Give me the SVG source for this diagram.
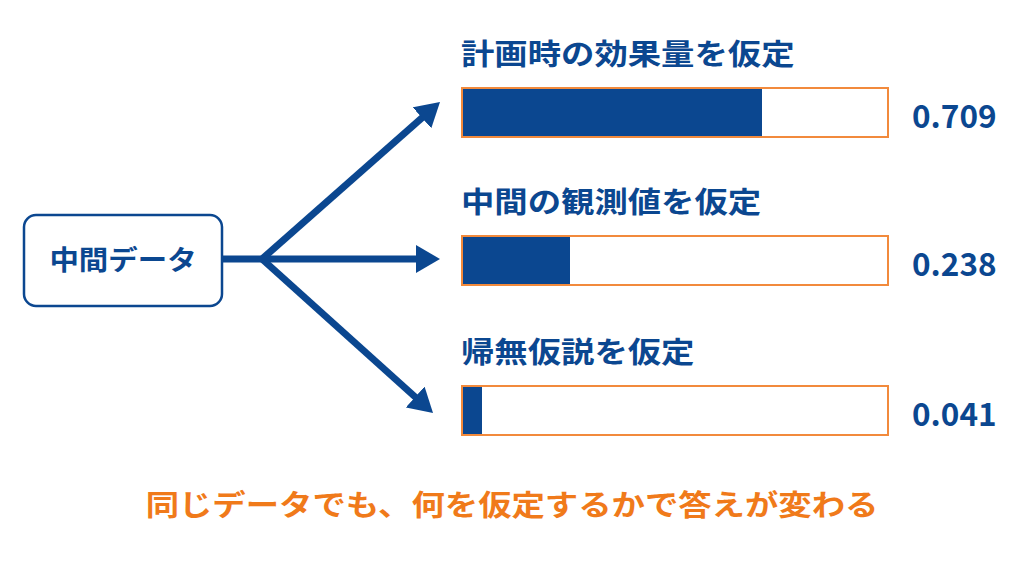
<svg xmlns="http://www.w3.org/2000/svg" width="1024" height="561" viewBox="0 0 1024 561">
<style>
.jp{font-family:"Noto Sans CJK JP","Noto Sans",sans-serif;font-weight:700}
.blue{fill:#0B4790}
.title{font-size:29px}
.val{font-size:31.5px}
.bar{fill:#fff;stroke:#F28A3C;stroke-width:2}
.fillb{fill:#0B4790}
.conn{stroke:#0B4790;stroke-width:7;fill:none}
</style>
<defs>
<marker id="ah" viewBox="0 0 24 28" refX="12" refY="14" markerWidth="24" markerHeight="28" orient="auto" markerUnits="userSpaceOnUse">
<path d="M0,0 L24,14 L0,28 z" fill="#0B4790"/>
</marker>
</defs>
<rect width="1024" height="561" fill="#fff"/>
<g id="node-data">
<rect x="24" y="215" width="198" height="91" rx="12" fill="#fff" stroke="#0B4790" stroke-width="2.5"/>
<text transform="translate(123,270) scale(1.09,1)" x="0" y="0" text-anchor="middle" font-size="27" class="jp blue">中間データ</text>
</g>
<g id="connectors">
<path class="conn" d="M222,259 L262,259"/>
<path class="conn" d="M262,259 L431,109.9" marker-end="url(#ah)"/>
<path class="conn" d="M262,259 L428,259" marker-end="url(#ah)"/>
<path class="conn" d="M262,259 L424.1,405" marker-end="url(#ah)"/>
</g>
<g id="bar-planned">
<text transform="translate(461,65) scale(1.15,1)" class="jp blue title">計画時の効果量を仮定</text>
<rect class="bar" x="462" y="88" width="426" height="49"/>
<rect class="fillb" x="463" y="89" width="299" height="47"/>
<text x="912" y="128" class="jp blue val">0.709</text>
</g>
<g id="bar-observed">
<text transform="translate(461,213) scale(1.15,1)" class="jp blue title">中間の観測値を仮定</text>
<rect class="bar" x="462" y="236" width="426" height="49"/>
<rect class="fillb" x="463" y="237" width="107" height="47"/>
<text x="912" y="276" class="jp blue val">0.238</text>
</g>
<g id="bar-null">
<text transform="translate(461,363) scale(1.15,1)" class="jp blue title">帰無仮説を仮定</text>
<rect class="bar" x="462" y="386" width="426" height="49"/>
<rect class="fillb" x="463" y="387" width="19" height="47"/>
<text x="912" y="426" class="jp blue val">0.041</text>
</g>
<g id="caption">
<text transform="translate(512,516) scale(1.15,1)" text-anchor="middle" font-size="29" class="jp" fill="#F07A1A">同じデータでも、何を仮定するかで答えが変わる</text>
</g>
</svg>
